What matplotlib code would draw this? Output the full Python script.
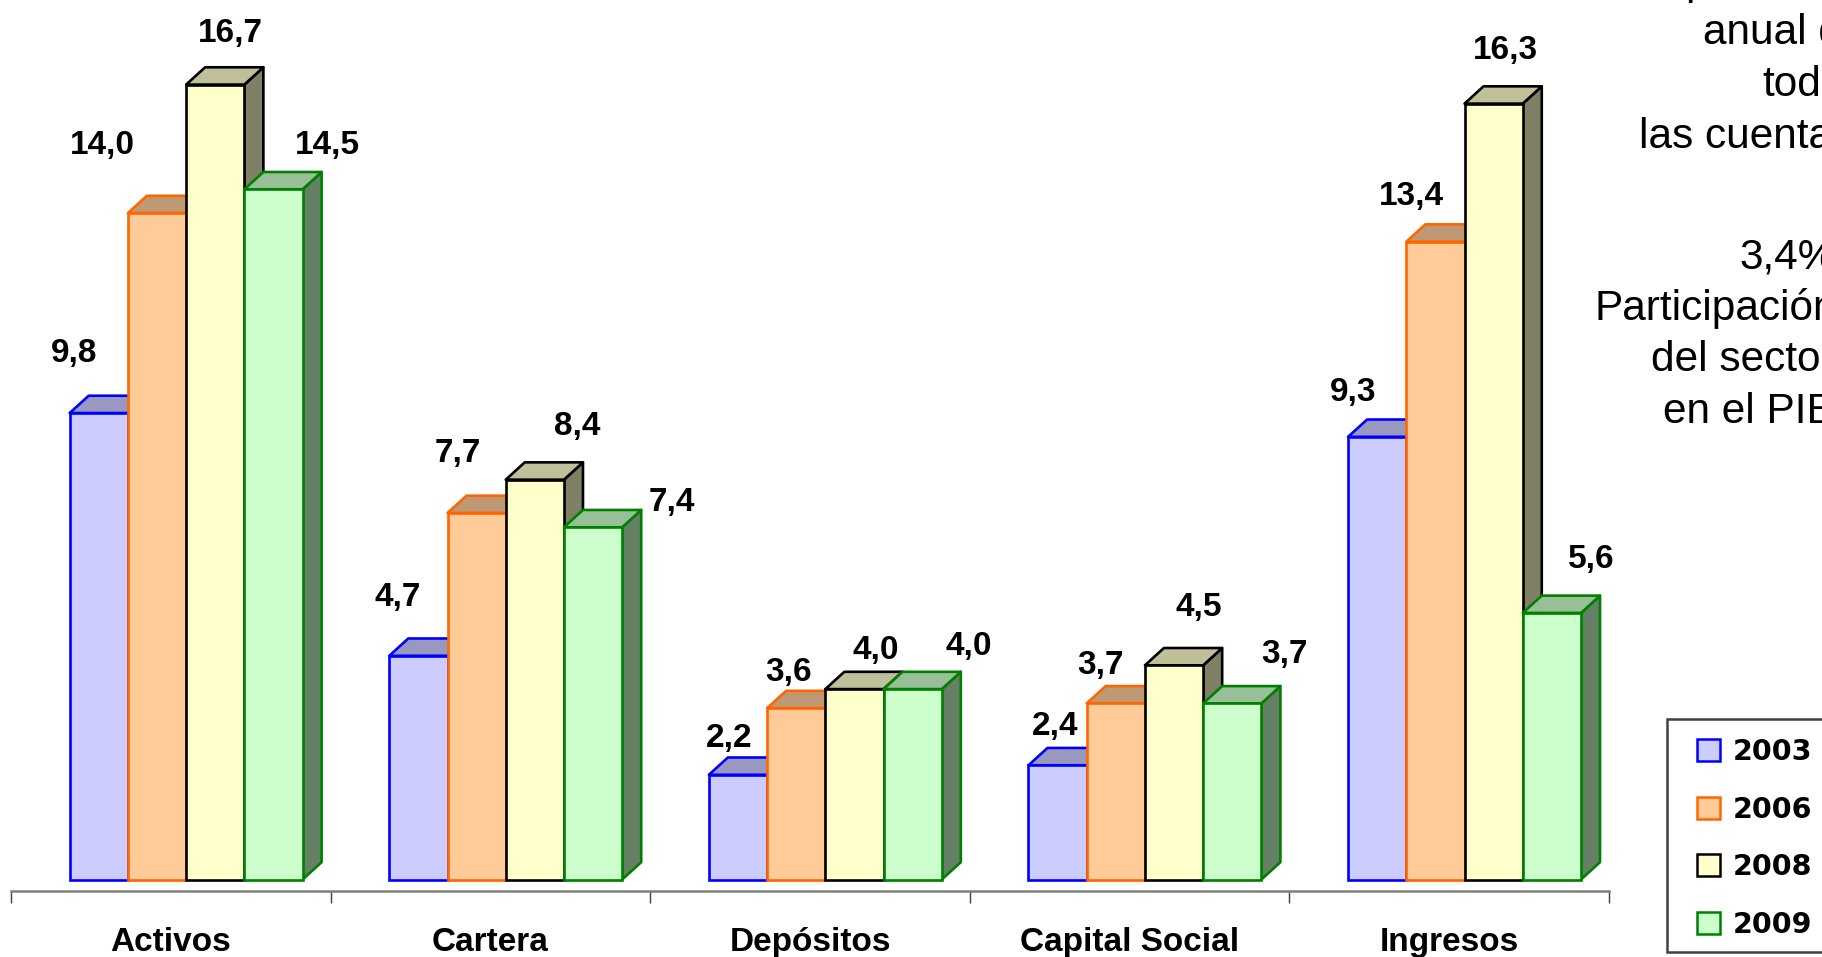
import matplotlib
matplotlib.use("Agg")
import matplotlib.pyplot as plt
from matplotlib.patches import Patch, Polygon, Rectangle

categories = ["Activos", "Cartera", "Depósitos", "Capital Social", "Ingresos"]
years = ["2003", "2006", "2008", "2009"]
v2003 = [9.8, 4.7, 2.2, 2.4, 9.3]
v2006 = [14.0, 7.7, 3.6, 3.7, 13.4]
v2008 = [16.7, 8.4, 4.0, 4.5, 16.3]
v2009 = [14.5, 7.4, 4.0, 3.7, 5.6]
series = [v2003, v2006, v2008, v2009]

# label offsets from the bar top centre, in pixels of the small preview
off2003 = [(-21, 51), (-18, 50), (-8, 31), (-2, 33), (-21, 38)]
off2006 = [(-47, 58), (-16, 51), (-7, 31), (-13, 33), (-21, 39)]
off2008 = [(13, 44), (36, 46), (18, 33), (21, 50), (10, 46)]
off2009 = [(46, 38), (68, 21), (48, 37), (45, 42), (34, 46)]
offsets = [off2003, off2006, off2008, off2009]

edges = ["#0000ff", "#ff6600", "#000000", "#008000"]
fronts = ["#ccccff", "#ffcc99", "#ffffcc", "#ccffcc"]
tops = ["#9999bf", "#bf9973", "#bfbf99", "#99bf99"]
sides = ["#666680", "#80664d", "#808066", "#668066"]

W, H = 1822, 957
PX_PER_UNIT = 47.6
BASE_Y = 879.5
AXIS_Y = 891
NARROW = "Liberation Sans"

fig = plt.figure(figsize=(W / 100, H / 100), dpi=100)
ax = fig.add_axes([11 / W, 1 - AXIS_Y / H, 1598 / W, AXIS_Y / H])
ax.patch.set_visible(False)
ax.set_xlim(0, 5)
ax.set_ylim(-(AXIS_Y - BASE_Y) / PX_PER_UNIT, BASE_Y / PX_PER_UNIT)

bar_w = 0.1822
group_mid = 0.548
dx = 19 / 319.6
dy = 17.3 / PX_PER_UNIT
scale = 1.162

for j, vals in enumerate(series):
    z = 3 + j
    for i, v in enumerate(vals):
        xc = i + group_mid + (j - 1.5) * bar_w
        x0 = xc - bar_w / 2
        x1 = xc + bar_w / 2
        ax.add_patch(Polygon([(x1, 0), (x1 + dx, dy), (x1 + dx, v + dy), (x1, v)],
                             facecolor=sides[j], edgecolor=edges[j], lw=1.9, zorder=z, joinstyle="round"))
        ax.add_patch(Polygon([(x0, v), (x0 + dx, v + dy), (x1 + dx, v + dy), (x1, v)],
                             facecolor=tops[j], edgecolor=edges[j], lw=1.9, zorder=z, joinstyle="round"))
        ax.bar(xc, v, width=bar_w, color=fronts[j], edgecolor=edges[j], linewidth=1.9, zorder=z)
        ox, oy = offsets[j][i]
        ax.annotate(f"{v:.1f}".replace(".", ","), xy=(xc, v),
                    xytext=(ox * scale, oy * scale), textcoords="offset pixels",
                    ha="center", va="center", fontsize=24, fontweight="bold",
                    family=NARROW, zorder=10)

for s in ["left", "top", "right"]:
    ax.spines[s].set_visible(False)
ax.spines["bottom"].set_color("#808080")
ax.spines["bottom"].set_linewidth(1.8)
ax.set_yticks([])
ax.set_xticks(range(6))
ax.set_xticklabels([])
ax.tick_params(axis="x", which="major", length=8.6, width=1, color="#404040")
ax.set_xticks([i + 0.5 for i in range(5)], minor=True)
ax.set_xticklabels(categories, minor=True, fontsize=24, fontweight="bold", family=NARROW)
ax.tick_params(axis="x", which="minor", length=0, pad=26)

# legend box runs past the right edge of the picture
fig.add_artist(Rectangle((1667 / W, 1 - 952 / H), 300 / W, 233 / H, transform=fig.transFigure,
                         facecolor="white", edgecolor="#404040", lw=1.8))
handles = [Patch(facecolor=fronts[k], edgecolor=edges[k], lw=1.8) for k in range(4)]
leg = fig.legend(handles, years, loc="upper left", bbox_to_anchor=(1697 / W, 1 - 738 / H),
                 frameon=False, borderpad=0, borderaxespad=0, handlelength=0.8, handleheight=0.8,
                 handletextpad=0.45, labelspacing=1.04,
                 prop={"family": "DejaVu Sans", "weight": "bold", "size": 20.5})

# side note, cut by the right edge of the picture
note = [("p", 1685, -6), ("anual d", 1703, 44), ("todas", 1762, 96), ("las cuentas", 1639, 148),
        ("3,4%", 1739, 268), ("Participación", 1594, 320), ("del sector", 1651, 371), ("en el PIB", 1663, 423)]
for txt, px, py in note:
    fig.text(px / W, 1 - py / H, txt, ha="left", va="baseline", fontsize=30.5, family="Liberation Sans")

fig.savefig("out.png", dpi=100)
